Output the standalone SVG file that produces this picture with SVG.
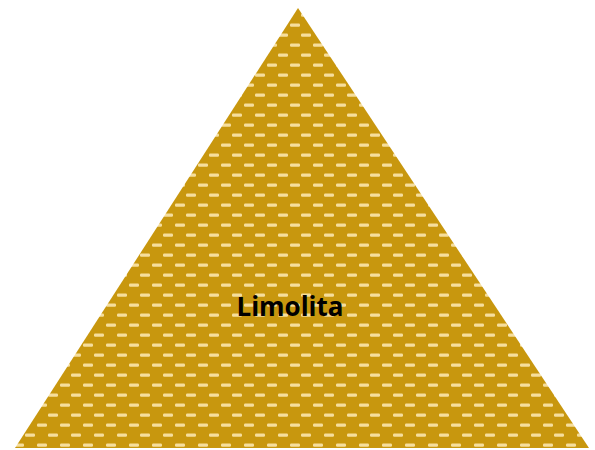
<svg xmlns="http://www.w3.org/2000/svg" width="595" height="450" viewBox="0 0 595 450">
  <defs>
    <pattern id="silt" x="4" y="0" width="23" height="20" patternUnits="userSpaceOnUse">
      <rect width="23" height="20" fill="#C8970E"/>
      <rect x="10" y="3.5" width="10" height="3.2" rx="1.2" fill="#F6DE9C"/>
      <rect x="-2" y="13.5" width="10" height="3.2" rx="1.2" fill="#F6DE9C"/>
      <rect x="21" y="13.5" width="10" height="3.2" rx="1.2" fill="#F6DE9C"/>
    </pattern>
  </defs>
  <style>
    .lbl { font-family: "Open Sans", "Liberation Sans", sans-serif; font-weight: bold; font-size: 26px; fill: #000; }
  </style>
  <rect width="595" height="450" fill="#FFFFFF"/>
  <g id="limolita">
    <polygon points="298,8 589,448 15,448" fill="url(#silt)"/>
    <text class="lbl" x="290" y="316" text-anchor="middle">Limolita</text>
  </g>
  <g id="connectors"/>
</svg>
